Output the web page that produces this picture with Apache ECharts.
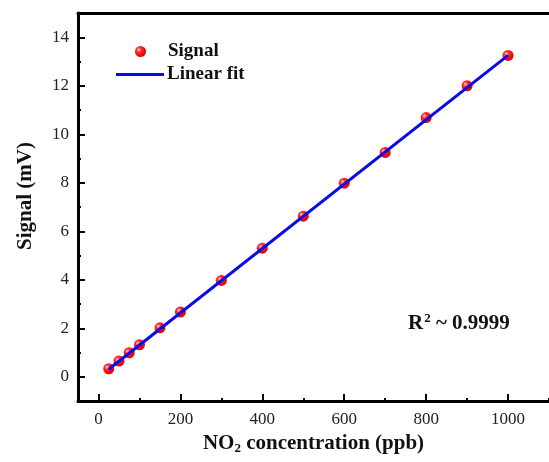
<!DOCTYPE html>
<html>
<head>
<meta charset="utf-8">
<script src="https://cdn.jsdelivr.net/npm/echarts@6/dist/echarts.min.js"></script>
<style>
html,body{margin:0;padding:0;background:#fff;}
#c{width:549px;height:462px;}
</style>
</head>
<body>
<div id="c"></div>
<script>
// Data
var concentration = [25, 50, 75, 100, 150, 200, 300, 400, 500, 600, 700, 800, 900, 1000];
var signal = [0.33, 0.65, 0.99, 1.32, 2.02, 2.67, 3.97, 5.30, 6.62, 7.98, 9.25, 10.69, 12.0, 13.25];
var fitX = [25, 1000];
var fitY = [0.31, 13.25];
var xMajorTicks = [0, 200, 400, 600, 800, 1000];
var xMinorTicks = [100, 300, 500, 700, 900, 1100];
var yMajorTicks = [0, 2, 4, 6, 8, 10, 12, 14];
var yMinorTicks = [-1, 1, 3, 5, 7, 9, 11, 13, 15];

var serif = '"Liberation Serif","Times New Roman",serif';
var chart = echarts.init(document.getElementById('c'), null, {renderer: 'canvas'});

function zip(a, b) { return a.map(function (v, i) { return [v, b[i]]; }); }
function plain(v) { return String(v); }

var ballColor = new echarts.graphic.RadialGradient(0.35, 0.35, 0.65, [
  {offset: 0, color: '#ffd0d0'},
  {offset: 0.35, color: '#ff2a2a'},
  {offset: 1, color: '#e00000'}
]);

var xMin = -50, xMax = 1100, yMin = -1, yMax = 15;
var legendText = {fontFamily: serif, fontWeight: 'bold', fontSize: 19, color: '#111', padding: [0, 0, 0, -2]};

chart.setOption({
  animation: false,
  backgroundColor: '#fff',
  grid: {left: 78, top: 13, right: -8, bottom: 61, containLabel: false},
  title: {
    left: 403, top: 307,
    text: 'R{sup|2} ~ 0.9999',
    textStyle: {
      fontFamily: serif, fontWeight: 'bold', fontSize: 21, color: '#111',
      rich: {sup: {fontFamily: serif, fontWeight: 'bold', fontSize: 13, verticalAlign: 'top', padding: [0, 0, 10, 1], color: '#111'}}
    }
  },
  legend: [
    {
      left: 130, top: 37,
      itemWidth: 49, itemHeight: 11,
      textStyle: legendText,
      data: [{name: 'Signal', icon: 'circle'}]
    },
    {
      left: 111, top: 60,
      itemWidth: 48, itemHeight: 3,
      textStyle: legendText,
      data: [{name: 'Linear fit', icon: 'rect'}]
    }
  ],
  xAxis: [
    {
      type: 'value', min: xMin, max: xMax, position: 'bottom',
      name: 'NO{sub|2} concentration (ppb)', nameLocation: 'middle', nameGap: 29,
      nameTextStyle: {
        fontFamily: serif, fontWeight: 'bold', fontSize: 21, color: '#111',
        rich: {sub: {fontFamily: serif, fontWeight: 'bold', fontSize: 13, verticalAlign: 'bottom', padding: [10, 0, 0, 0], color: '#111'}}
      },
      axisLine: {show: true, onZero: false, lineStyle: {color: '#000', width: 3}},
      axisTick: {show: true, inside: true, length: 7, lineStyle: {color: '#000', width: 2}, customValues: xMajorTicks},
      axisLabel: {show: true, margin: 10, fontFamily: serif, fontSize: 17, color: '#222', customValues: xMajorTicks, formatter: plain},
      splitLine: {show: false}
    },
    {
      type: 'value', min: xMin, max: xMax, position: 'bottom',
      axisLine: {show: false, onZero: false},
      axisTick: {show: true, inside: true, length: 3, lineStyle: {color: '#000', width: 2}, customValues: xMinorTicks},
      axisLabel: {show: false},
      splitLine: {show: false}
    },
    {
      type: 'value', min: xMin, max: xMax, position: 'top',
      axisLine: {show: true, onZero: false, lineStyle: {color: '#000', width: 3}},
      axisTick: {show: false}, axisLabel: {show: false}, splitLine: {show: false}
    }
  ],
  yAxis: [
    {
      type: 'value', min: yMin, max: yMax, position: 'left',
      name: 'Signal (mV)', nameLocation: 'middle', nameGap: 42, nameRotate: 90,
      nameTextStyle: {fontFamily: serif, fontWeight: 'bold', fontSize: 21, color: '#111', padding: [0, 0, 0, 22]},
      axisLine: {show: true, onZero: false, lineStyle: {color: '#000', width: 3}},
      axisTick: {show: true, inside: true, length: 7, lineStyle: {color: '#000', width: 2}, customValues: yMajorTicks},
      axisLabel: {show: true, margin: 9, fontFamily: serif, fontSize: 17, color: '#222', customValues: yMajorTicks, formatter: plain},
      splitLine: {show: false}
    },
    {
      type: 'value', min: yMin, max: yMax, position: 'left',
      axisLine: {show: false, onZero: false},
      axisTick: {show: true, inside: true, length: 3, lineStyle: {color: '#000', width: 2}, customValues: yMinorTicks},
      axisLabel: {show: false},
      splitLine: {show: false}
    }
  ],
  series: [
    {
      name: 'Signal', type: 'scatter', xAxisIndex: 0, yAxisIndex: 0,
      symbol: 'circle', symbolSize: 11,
      itemStyle: {color: ballColor, opacity: 1},
      data: zip(concentration, signal), z: 3
    },
    {
      name: 'Linear fit', type: 'line', xAxisIndex: 0, yAxisIndex: 0,
      showSymbol: false, symbol: 'none',
      lineStyle: {color: '#0a0ae6', width: 3},
      itemStyle: {color: '#0a0ae6'},
      data: zip(fitX, fitY), z: 4
    }
  ]
});
</script>
</body>
</html>
